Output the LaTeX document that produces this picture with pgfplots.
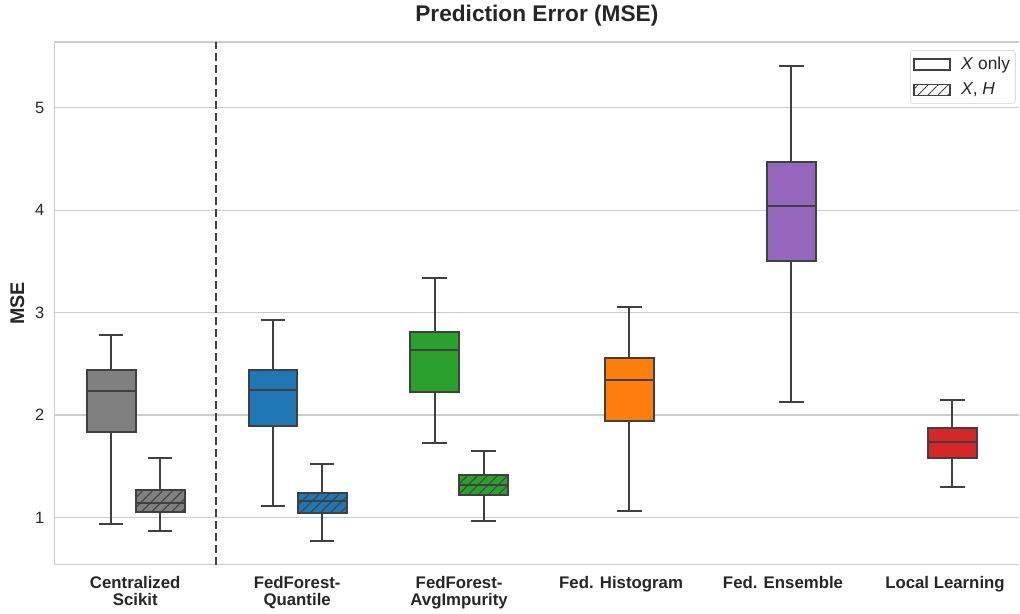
\documentclass[border=0pt]{standalone}
\usepackage{fontspec}
\setmainfont{Liberation Sans}
\usepackage{pgfplots}
\pgfplotsset{compat=1.18}
\usepgfplotslibrary{statistics}
\usetikzlibrary{patterns.meta}
\definecolor{edge}{RGB}{64,64,64}
\definecolor{gridc}{RGB}{204,204,204}
\definecolor{txt}{RGB}{38,38,38}
\definecolor{cgray}{RGB}{128,128,128}
\definecolor{cblue}{HTML}{1F77B4}
\definecolor{cgreen}{HTML}{2CA02C}
\definecolor{corange}{HTML}{FF7F0E}
\definecolor{cpurple}{HTML}{9467BD}
\definecolor{cred}{HTML}{D62728}
\pgfplotsset{
  plainbox/.style={draw=edge, line width=1.5pt, fill=#1, forget plot, boxplot/draw direction=y},
  hatchbox/.style={draw=edge, line width=1.5pt, forget plot, boxplot/draw direction=y,
    boxplot/every box/.style={draw=edge, preaction={fill=#1},
      pattern={Lines[angle=45,distance=5.3pt,line width=0.75pt]}, pattern color=edge}},
}
\begin{document}
\begin{tikzpicture}
\begin{axis}[
  scale only axis, width=724.3pt, height=392.25pt,
  xmin=-0.5, xmax=5.46, ymin=0.538, ymax=5.642,
  axis y line*=left,
  axis line style={draw=gridc, line width=0.8pt},
  ymajorgrids, grid style={draw=gridc, line width=0.8pt},
  ytick={1,2,3,4,5}, xtick={0,1,2,3,4,5},
  xticklabels={{Centralized\\Scikit},{FedForest-\\Quantile},{FedForest-\\AvgImpurity},{Fed. Histogram},{Fed. Ensemble},{Local Learning}},
  major tick length=0pt, tick style={draw=none},
  /pgf/number format/assume math mode=true,
  xticklabel style={font=\bfseries\fontsize{12.6}{12.9}\selectfont, align=center, text=txt, yshift=-5pt},
  yticklabel style={font=\fontsize{12.3}{14}\selectfont, text=txt, xshift=-4pt},
  ylabel={MSE},
  ylabel style={font=\bfseries\fontsize{14.8}{16}\selectfont, text=txt, at={(axis description cs:-0.0381,0.5)}, anchor=center},
  title={Prediction Error (MSE)},
  every axis title shift=0pt,
  title style={font=\bfseries\fontsize{17}{20}\selectfont, text=txt, at={(axis description cs:0.5,1)}, anchor=base, yshift=15.3pt, inner sep=0pt},
  legend style={at={(axis description cs:0.9959,0.9845)}, anchor=north east, draw=gridc, rounded corners=2pt, fill=white,
    font=\fontsize{13}{15}\selectfont, text=txt, inner xsep=2pt, inner ysep=3pt, row sep=4.5pt,
    /tikz/every odd column/.append style={column sep=6pt}},
  legend cell align=left,
]
\coordinate (sw) at (axis description cs:0,0);
% dashed separator
\addplot[edge, line width=1.5pt, dash pattern=on 6pt off 3pt, forget plot] coordinates {(0.5,0.538) (0.5,5.642)};
% Centralized Scikit
\addplot[plainbox=cgray, boxplot prepared={draw position=-0.148, lower whisker=0.94, lower quartile=1.83, median=2.23, upper quartile=2.44, upper whisker=2.78, box extend=0.302, whisker extend=0.151}] coordinates {};
\addplot[hatchbox=cgray, boxplot prepared={draw position=0.154, lower whisker=0.87, lower quartile=1.05, median=1.14, upper quartile=1.27, upper whisker=1.58, box extend=0.302, whisker extend=0.151}] coordinates {};
% FedForest-Quantile
\addplot[plainbox=cblue, boxplot prepared={draw position=0.851, lower whisker=1.11, lower quartile=1.89, median=2.24, upper quartile=2.44, upper whisker=2.93, box extend=0.302, whisker extend=0.151}] coordinates {};
\addplot[hatchbox=cblue, boxplot prepared={draw position=1.154, lower whisker=0.77, lower quartile=1.04, median=1.16, upper quartile=1.24, upper whisker=1.52, box extend=0.302, whisker extend=0.151}] coordinates {};
% FedForest-AvgImpurity
\addplot[plainbox=cgreen, boxplot prepared={draw position=1.849, lower whisker=1.73, lower quartile=2.22, median=2.63, upper quartile=2.81, upper whisker=3.34, box extend=0.302, whisker extend=0.151}] coordinates {};
\addplot[hatchbox=cgreen, boxplot prepared={draw position=2.151, lower whisker=0.96, lower quartile=1.22, median=1.32, upper quartile=1.41, upper whisker=1.65, box extend=0.302, whisker extend=0.151}] coordinates {};
% Fed. Histogram
\addplot[plainbox=corange, boxplot prepared={draw position=3.051, lower whisker=1.06, lower quartile=1.94, median=2.34, upper quartile=2.56, upper whisker=3.05, box extend=0.302, whisker extend=0.151}] coordinates {};
% Fed. Ensemble
\addplot[plainbox=cpurple, boxplot prepared={draw position=4.051, lower whisker=2.13, lower quartile=3.50, median=4.04, upper quartile=4.47, upper whisker=5.41, box extend=0.302, whisker extend=0.151}] coordinates {};
% Local Learning
\addplot[plainbox=cred, boxplot prepared={draw position=5.046, lower whisker=1.30, lower quartile=1.58, median=1.74, upper quartile=1.87, upper whisker=2.15, box extend=0.302, whisker extend=0.151}] coordinates {};
% legend
\addlegendimage{legend image code/.code={\draw[sharp corners,draw=edge,line width=1.2pt,fill=white] (0pt,-4.1pt) rectangle (27pt,4.1pt);}}
\addlegendentry{\textit{X} only}
\addlegendimage{legend image code/.code={\draw[sharp corners,draw=edge,line width=1.2pt,preaction={fill=white},pattern={Lines[angle=45,distance=5.3pt,line width=0.7pt]},pattern color=edge] (0pt,-4.1pt) rectangle (27pt,4.1pt);}}
\addlegendentry{\textit{X}, \textit{H}}
\end{axis}
\path (sw) ++(-40.7pt,-36pt) rectangle ++(765pt,459.75pt);
\end{tikzpicture}
\end{document}
